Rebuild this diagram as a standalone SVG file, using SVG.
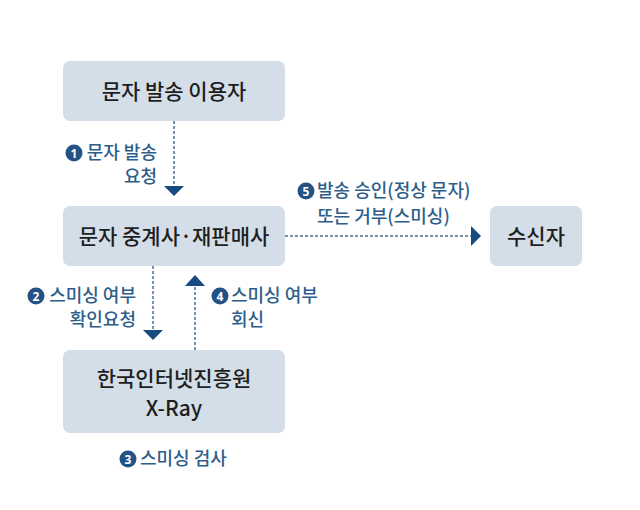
<svg xmlns="http://www.w3.org/2000/svg" width="640" height="510" viewBox="0 0 640 510">
<style>
.box{fill:#d4dee8;}
.nt{font-family:"Noto Sans CJK KR","Noto Sans",sans-serif;font-size:21px;font-weight:500;fill:#1e1e1e;text-anchor:middle;}
.lb{font-family:"Noto Sans CJK KR","Noto Sans",sans-serif;font-size:18px;font-weight:500;fill:#2d5e8a;}
.cn{font-family:"Noto Sans","Noto Sans CJK KR",sans-serif;font-size:12px;font-weight:bold;fill:#ffffff;text-anchor:middle;}
.dot{fill:#245284;}
.ln{stroke:#4a6f96;stroke-width:1.5;stroke-dasharray:3 2;fill:none;}
.ah{fill:#174a80;}
</style>
<rect width="640" height="510" fill="#ffffff"/>
<g id="node-sender">
<rect class="box" x="63" y="61" width="222" height="60" rx="7"/>
<text class="nt" x="174" y="99">문자 발송 이용자</text>
</g>
<g id="node-relay">
<rect class="box" x="63" y="206" width="222" height="60" rx="7"/>
<text class="nt" x="174" y="244">문자 중계사·재판매사</text>
</g>
<g id="node-kisa">
<rect class="box" x="63" y="350" width="222" height="83" rx="7"/>
<text class="nt" x="174" y="386">한국인터넷진흥원</text>
<text class="nt" x="174" y="416">X-Ray</text>
</g>
<g id="node-receiver">
<rect class="box" x="490" y="206" width="92" height="60" rx="7"/>
<text class="nt" x="536" y="244">수신자</text>
</g>
<g id="connectors">
<line class="ln" x1="174" y1="121" x2="174" y2="186"/>
<polygon class="ah" points="164,186 184,186 174,196"/>
<line class="ln" x1="153" y1="266" x2="153" y2="330"/>
<polygon class="ah" points="143,330 163,330 153,340"/>
<line class="ln" x1="195" y1="350" x2="195" y2="286"/>
<polygon class="ah" points="185,286 205,286 195,275"/>
<line class="ln" x1="285" y1="236" x2="471" y2="236"/>
<polygon class="ah" points="471,226 471,246 481,236"/>
</g>
<g id="label-1">
<circle class="dot" cx="74" cy="153" r="8.5"/>
<text class="cn" x="74" y="157.5">1</text>
<text class="lb" x="157" y="159" text-anchor="end">문자 발송</text>
<text class="lb" x="157" y="183" text-anchor="end">요청</text>
</g>
<g id="label-2">
<circle class="dot" cx="36" cy="296" r="8.5"/>
<text class="cn" x="36" y="300.5">2</text>
<text class="lb" x="136" y="302" text-anchor="end">스미싱 여부</text>
<text class="lb" x="136" y="326" text-anchor="end">확인요청</text>
</g>
<g id="label-4">
<circle class="dot" cx="220" cy="296" r="8.5"/>
<text class="cn" x="220" y="300.5">4</text>
<text class="lb" x="231" y="302">스미싱 여부</text>
<text class="lb" x="231" y="326">회신</text>
</g>
<g id="label-3">
<circle class="dot" cx="128" cy="459" r="8.5"/>
<text class="cn" x="128" y="463.5">3</text>
<text class="lb" x="140" y="465">스미싱 검사</text>
</g>
<g id="label-5">
<circle class="dot" cx="306" cy="191" r="8.5"/>
<text class="cn" x="306" y="195.5">5</text>
<text class="lb" x="317" y="197">발송 승인(정상 문자)</text>
<text class="lb" x="317" y="223">또는 거부(스미싱)</text>
</g>
</svg>
